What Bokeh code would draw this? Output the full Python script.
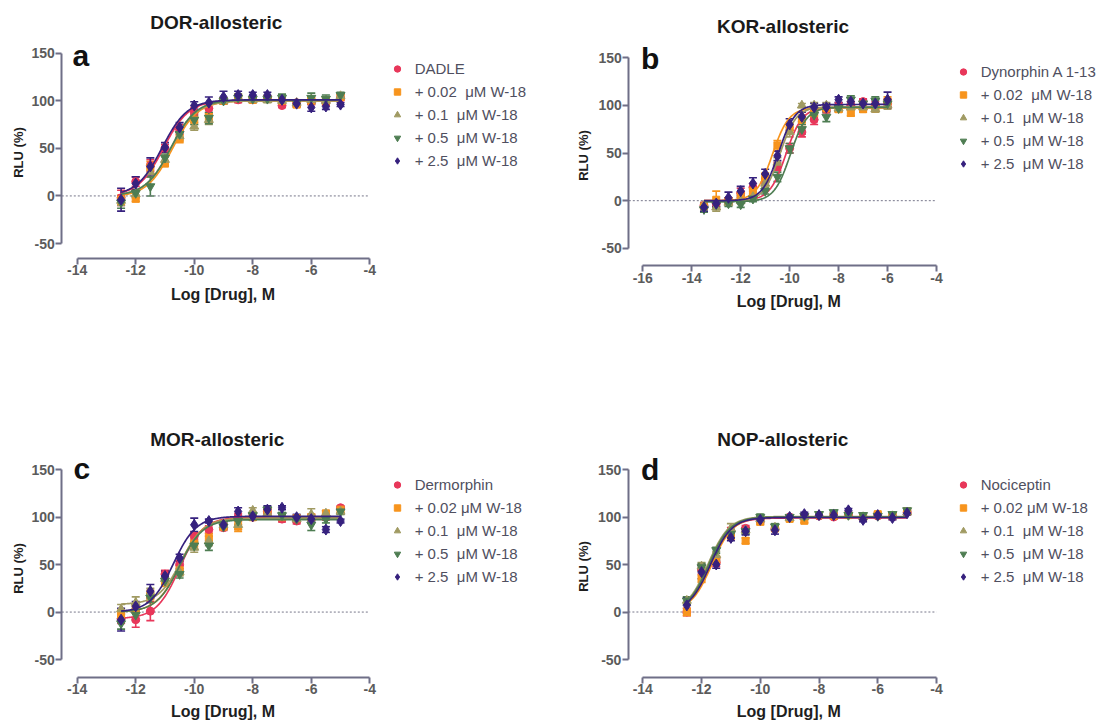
import math
import numpy as np
from bokeh.plotting import figure
from bokeh.layouts import column, row
from bokeh.models import (Range1d, Whisker, TeeHead, ColumnDataSource, Legend,
                          LegendItem, Label, FixedTicker)
from bokeh.embed import file_html
from bokeh.resources import INLINE

# ---------------- data ----------------
# Panel a: DOR
a_x = [-12.5, -12, -11.5, -11, -10.5, -10, -9.5, -9, -8.5, -8, -7.5, -7, -6.5, -6, -5.5, -5]
a_labels = ["DADLE", "+ 0.02  μM W-18", "+ 0.1  μM W-18", "+ 0.5  μM W-18", "+ 2.5  μM W-18"]
a_dadle = [-2, 15, 32, 50, 70, 88, 92, 100, 101, 101, 102, 95, 98, 99, 98, 103]
a_dadle_err = [8, 5, 6, 4, 5, 5, 5, 3, 3, 2, 3, 2, 3, 3, 3, 3]
a_w002 = [-4, -3, 30, 34, 60, 80, 82, 100, 103, 101, 102, 100, 96, 100, 100, 104]
a_w002_err = [5, 3, 6, 3, 4, 5, 5, 3, 4, 3, 3, 4, 3, 3, 3, 3]
a_w01 = [-5, 2, 25, 38, 63, 73, 80, 100, 102, 101, 101, 100, 98, 101, 100, 105]
a_w01_err = [5, 4, 5, 4, 5, 4, 5, 3, 3, 3, 3, 4, 3, 4, 4, 3]
a_w05 = [-7, 3, 10, 40, 65, 80, 82, 100, 103, 102, 102, 103, 98, 103, 102, 106]
a_w05_err = [6, 4, 10, 4, 5, 5, 6, 3, 4, 3, 3, 4, 3, 5, 4, 3]
a_w25 = [-4, 13, 31, 51, 72, 95, 98, 104, 106, 106, 106, 101, 97, 93, 94, 96]
a_w25_err = [12, 7, 9, 5, 5, 4, 6, 6, 4, 3, 3, 3, 3, 4, 3, 2]
# fit parameters: logEC50, hill, bottom, top
a_fit_logec50 = [-11.05, -10.75, -10.8, -10.8, -11.1]
a_fit_hill = [1.0, 1.0, 1.0, 1.0, 1.0]
a_fit_bottom = [0, -1, 0, 0, 0]
a_fit_top = [100.5, 100, 100, 101, 101]

# Panel b: KOR
b_x = [-13.5, -13, -12.5, -12, -11.5, -11, -10.5, -10, -9.5, -9, -8.5, -8, -7.5, -7, -6.5, -6]
b_labels = ["Dynorphin A 1-13", "+ 0.02  μM W-18", "+ 0.1  μM W-18", "+ 0.5  μM W-18", "+ 2.5  μM W-18"]
b_dyn = [-5, -3, 0, 8, 14, 20, 36, 55, 72, 85, 96, 100, 100, 104, 100, 102]
b_dyn_err = [3, 3, 3, 5, 4, 4, 4, 5, 5, 5, 4, 3, 4, 3, 4, 5]
b_w002 = [-6, 1, 0, 5, 10, 25, 58, 76, 85, 92, 97, 96, 92, 96, 97, 104]
b_w002_err = [3, 9, 3, 4, 4, 4, 5, 5, 5, 4, 3, 3, 3, 3, 3, 5]
b_w01 = [-5, -7, -2, 0, 4, 18, 40, 72, 100, 100, 100, 97, 98, 98, 96, 100]
b_w01_err = [3, 4, 3, 3, 3, 4, 5, 5, 2, 3, 3, 3, 3, 3, 3, 4]
b_w05 = [-9, -4, -3, -4, 2, 10, 25, 55, 75, 90, 88, 97, 106, 102, 105, 102]
b_w05_err = [3, 3, 3, 3, 3, 3, 5, 5, 5, 5, 5, 3, 4, 3, 4, 4]
b_w25 = [-7, -3, 3, 10, 18, 28, 47, 80, 88, 98, 98, 106, 104, 102, 102, 106]
b_w25_err = [4, 3, 6, 5, 6, 5, 5, 6, 5, 4, 4, 3, 4, 4, 4, 8]
b_fit_logec50 = [-10.15, -10.7, -10.4, -9.97, -10.45]
b_fit_hill = [1.3, 1.3, 1.3, 1.3, 1.3]
b_fit_bottom = [0, 0, -1, -1, 0]
b_fit_top = [98, 97.5, 98.5, 98, 101]

# Panel c: MOR
c_x = [-12.5, -12, -11.5, -11, -10.5, -10, -9.5, -9, -8.5, -8, -7.5, -7, -6.5, -6, -5.5, -5]
c_labels = ["Dermorphin", "+ 0.02 μM W-18", "+ 0.1  μM W-18", "+ 0.5  μM W-18", "+ 2.5  μM W-18"]
c_derm = [-7, -8, 1, 40, 50, 80, 87, 89, 100, 100, 106, 98, 96, 100, 100, 110]
c_derm_err = [5, 8, 10, 4, 4, 4, 4, 3, 4, 3, 3, 3, 3, 3, 3, 2]
c_w002 = [-3, 3, 18, 32, 44, 72, 78, 90, 90, 100, 106, 100, 99, 100, 104, 108]
c_w002_err = [5, 4, 5, 5, 5, 5, 5, 3, 5, 3, 3, 3, 3, 3, 3, 3]
c_w01 = [3, 10, 20, 35, 42, 68, 75, 92, 92, 107, 104, 100, 98, 103, 104, 106]
c_w01_err = [5, 6, 5, 5, 4, 5, 5, 3, 5, 3, 3, 3, 3, 6, 3, 3]
c_w05 = [-12, -3, 15, 33, 40, 70, 70, 90, 96, 102, 108, 102, 98, 92, 98, 106]
c_w05_err = [6, 6, 5, 4, 4, 4, 5, 3, 4, 3, 3, 3, 3, 6, 4, 3]
c_w25 = [-8, 6, 22, 38, 57, 92, 96, 92, 106, 101, 108, 110, 100, 98, 87, 96]
c_w25_err = [12, 5, 7, 5, 4, 7, 2, 3, 4, 3, 4, 2, 3, 3, 3, 2]
c_fit_logec50 = [-10.5, -10.5, -10.45, -10.5, -10.72]
c_fit_hill = [1.1, 1.1, 1.1, 1.1, 1.1]
c_fit_bottom = [-7, 0, 8, 0, 0]
c_fit_top = [100, 99, 99, 97.5, 101]

# Panel d: NOP
d_x = [-12.5, -12, -11.5, -11, -10.5, -10, -9.5, -9, -8.5, -8, -7.5, -7, -6.5, -6, -5.5, -5]
d_labels = ["Nociceptin", "+ 0.02 μM W-18", "+ 0.1  μM W-18", "+ 0.5  μM W-18", "+ 2.5  μM W-18"]
d_noc = [0, 45, 52, 85, 88, 98, 88, 100, 100, 101, 100, 102, 99, 101, 100, 105]
d_noc_err = [4, 5, 4, 4, 3, 3, 3, 2, 2, 2, 2, 2, 2, 2, 2, 2]
d_w002 = [0, 35, 55, 80, 75, 95, 88, 98, 96, 102, 101, 102, 100, 103, 102, 106]
d_w002_err = [4, 4, 4, 4, 3, 3, 3, 2, 2, 2, 2, 2, 2, 2, 2, 2]
d_w01 = [12, 48, 60, 88, 86, 98, 89, 99, 100, 102, 103, 102, 100, 102, 101, 105]
d_w01_err = [4, 4, 4, 5, 3, 3, 3, 2, 2, 2, 2, 2, 2, 2, 2, 2]
d_w05 = [12, 47, 65, 82, 85, 100, 90, 100, 101, 103, 105, 102, 102, 101, 103, 107]
d_w05_err = [4, 4, 3, 4, 3, 3, 3, 2, 2, 2, 2, 2, 2, 2, 2, 2]
d_w25 = [7, 42, 50, 78, 85, 97, 86, 100, 103, 102, 102, 107, 97, 102, 99, 104]
d_w25_err = [8, 7, 4, 3, 4, 3, 4, 2, 2, 2, 2, 2, 2, 2, 2, 2]
d_fit_logec50 = [-11.7, -11.65, -11.78, -11.75, -11.7]
d_fit_hill = [1.2, 1.2, 1.2, 1.2, 1.2]
d_fit_bottom = [0, 0, 0, 0, 0]
d_fit_top = [99, 100, 100.5, 100, 99.5]

titles = ["DOR-allosteric", "KOR-allosteric", "MOR-allosteric", "NOP-allosteric"]
letters = ["a", "b", "c", "d"]
x_title = "Log [Drug], M"
y_title = "RLU (%)"
y_ticks = [-50, 0, 50, 100, 150]
x_ticks_14 = [-14, -12, -10, -8, -6, -4]
x_ticks_16 = [-16, -14, -12, -10, -8, -6, -4]

# ---------------- style / layout ----------------
COLORS = ["#e8375a", "#f7941d", "#a09a62", "#4e7d52", "#36217e"]
MARKERS = ["circle", "square", "triangle", "inverted_triangle", "diamond"]
SIZES = [8, 7, 9, 9, 11]
AXC = "#6f6f87"
FONT = "Liberation Sans"
BASELINE_SHIFT = 0.35   # em; compensates where the text is drawn relative to its anchor

# page-pixel layout of each panel: figure box, axis calibration, axis lines, texts
LAYOUT = {
    "a": dict(fig=(0, 0, 560, 420), xcal=(-14, 76.7, 29.26), ycal=(150, 52.7, 0.9515),
              yaxis_px=61.3, xaxis_px=257.7, title=(215.8, 28.3), letter=(72, 65),
              xlab=(222.5, 299.5), ylab=(22.3, 152), legend=(388.7, 56.8)),
    "b": dict(fig=(560, 0, 546, 420), xcal=(-16, 642.3, 24.475), ycal=(150, 57.3, 0.9525),
              yaxis_px=628.3, xaxis_px=265.0, title=(782.5, 32.3), letter=(640.5, 68.3),
              xlab=(788.3, 306.5), ylab=(587.3, 155), legend=(954.7, 60.3)),
    "c": dict(fig=(0, 420, 560, 302), xcal=(-14, 76.7, 29.26), ycal=(150, 469.3, 0.9485),
              yaxis_px=61.3, xaxis_px=676.7, title=(216.7, 445.7), letter=(73, 478.3),
              xlab=(222.5, 717.0), ylab=(22.3, 568), legend=(388.7, 472.9)),
    "d": dict(fig=(560, 420, 546, 302), xcal=(-14, 642.3, 29.37), ycal=(150, 469.0, 0.95),
              yaxis_px=627.9, xaxis_px=676.7, title=(782.3, 445.7), letter=(640.5, 479),
              xlab=(788.3, 717.0), ylab=(587.3, 566), legend=(954.7, 472.9)),
}


def logistic(x, logec50, hill, bottom, top):
    return bottom + (top - bottom) / (1.0 + 10.0 ** ((logec50 - x) * hill))


def style_axis(ax):
    ax.axis_line_color = AXC
    ax.axis_line_width = 2
    ax.major_tick_line_color = AXC
    ax.major_tick_line_width = 2
    ax.major_tick_in = 0
    ax.major_tick_out = 6
    ax.minor_tick_line_color = None
    ax.major_label_text_font = FONT
    ax.major_label_text_font_style = "bold"
    ax.major_label_text_font_size = "14px"
    ax.major_label_text_color = "#5b5b5b"
    ax.major_label_standoff = 1


def make_panel(key, xticks, xs, ys, es, fits, labels, title, letter):
    L = LAYOUT[key]
    fl, ft, fw, fh = L["fig"]
    xv, xp, xs_ = L["xcal"]
    yv, yp, ys_ = L["ycal"]
    px2x = lambda px: xv + (px - xp) / xs_
    py2y = lambda py: yv - (py - yp) / ys_
    # screen position (from the figure's bottom-left) of a page pixel
    sx = lambda px: px - fl
    sy = lambda py: ft + fh - py

    p = figure(width=fw, height=fh,
               x_range=Range1d(px2x(fl), px2x(fl + fw)),
               y_range=Range1d(py2y(ft + fh), py2y(ft)),
               output_backend="svg", toolbar_location=None, min_border=0,
               min_border_left=0, min_border_right=0, min_border_top=0,
               min_border_bottom=0)
    p.title.visible = False
    p.outline_line_color = None
    p.xgrid.visible = False
    p.ygrid.visible = False
    p.background_fill_color = "white"
    p.border_fill_color = "white"

    x_axis_loc = py2y(L["xaxis_px"])
    y_axis_loc = px2x(L["yaxis_px"])
    xa, ya = p.xaxis[0], p.yaxis[0]
    xa.fixed_location = x_axis_loc
    ya.fixed_location = y_axis_loc
    xa.ticker = FixedTicker(ticks=xticks)
    xa.bounds = (xticks[0], xticks[-1])
    xa.major_label_overrides = {t: str(t) for t in xticks}
    ya.ticker = FixedTicker(ticks=y_ticks)
    ya.bounds = (y_ticks[0], y_ticks[-1])
    ya.major_label_overrides = {t: str(t) for t in y_ticks}
    style_axis(xa)
    style_axis(ya)

    # dotted zero line, from the y axis to the end of the x axis
    p.line(x=[y_axis_loc, xticks[-1]], y=[0, 0], line_color="#77778a", line_width=1,
           line_dash="2 2")

    fine = np.linspace(xs[0], xs[-1], 300)
    items = []
    for i in range(5):
        c = COLORS[i]
        y = np.array(ys[i], dtype=float)
        e = np.array(es[i], dtype=float)
        src = ColumnDataSource(dict(x=xs, y=y, upper=y + e, lower=y - e))
        w = Whisker(source=src, base="x", upper="upper", lower="lower",
                    line_color=c, line_width=1.6,
                    upper_head=TeeHead(size=8, line_color=c, line_width=1.6),
                    lower_head=TeeHead(size=8, line_color=c, line_width=1.6))
        p.add_layout(w)
        lec, h, b, t = fits[0][i], fits[1][i], fits[2][i], fits[3][i]
        p.line(x=fine, y=logistic(fine, lec, h, b, t), line_color=c, line_width=1.7)
        r = p.scatter(x="x", y="y", source=src, marker=MARKERS[i], size=SIZES[i],
                      fill_color=c, line_color=c)
        items.append(LegendItem(label=labels[i], renderers=[r]))

    lg_left, lg_top = L["legend"]
    n = len(items)
    legend = Legend(items=items, location=(sx(lg_left), sy(lg_top + 23 * n)),
                    orientation="vertical", padding=0, margin=0, spacing=0,
                    glyph_width=16, glyph_height=23, label_height=23, label_standoff=10,
                    label_text_font=FONT, label_text_font_size="15px",
                    label_text_color="#4f4f60", border_line_color=None,
                    background_fill_alpha=0)
    p.add_layout(legend)

    def text(pos, s, size_px, color, align="center", vertical=False):
        shift = BASELINE_SHIFT * size_px
        if vertical:
            px, py, angle = pos[0] - shift, pos[1], math.pi / 2
        else:
            px, py, angle = pos[0], pos[1] - shift, 0.0
        p.add_layout(Label(x=sx(px), y=sy(py), x_units="screen", y_units="screen",
                           text=s, text_align=align, text_baseline="alphabetic",
                           angle=angle, text_font=FONT, text_font_style="bold",
                           text_font_size=f"{size_px}px", text_color=color))

    text(L["title"], title, 19, "#1a1a1a")
    text(L["letter"], letter, 30, "#111111", align="left")
    text(L["xlab"], x_title, 16, "#1e1e1e")
    text(L["ylab"], y_title, 13, "#1e1e1e", vertical=True)
    return p


pa = make_panel("a", x_ticks_14, a_x,
                [a_dadle, a_w002, a_w01, a_w05, a_w25],
                [a_dadle_err, a_w002_err, a_w01_err, a_w05_err, a_w25_err],
                (a_fit_logec50, a_fit_hill, a_fit_bottom, a_fit_top),
                a_labels, titles[0], letters[0])
pb = make_panel("b", x_ticks_16, b_x,
                [b_dyn, b_w002, b_w01, b_w05, b_w25],
                [b_dyn_err, b_w002_err, b_w01_err, b_w05_err, b_w25_err],
                (b_fit_logec50, b_fit_hill, b_fit_bottom, b_fit_top),
                b_labels, titles[1], letters[1])
pc = make_panel("c", x_ticks_14, c_x,
                [c_derm, c_w002, c_w01, c_w05, c_w25],
                [c_derm_err, c_w002_err, c_w01_err, c_w05_err, c_w25_err],
                (c_fit_logec50, c_fit_hill, c_fit_bottom, c_fit_top),
                c_labels, titles[2], letters[2])
pd_ = make_panel("d", x_ticks_14, d_x,
                 [d_noc, d_w002, d_w01, d_w05, d_w25],
                 [d_noc_err, d_w002_err, d_w01_err, d_w05_err, d_w25_err],
                 (d_fit_logec50, d_fit_hill, d_fit_bottom, d_fit_top),
                 d_labels, titles[3], letters[3])

layout = column(row(pa, pb), row(pc, pd_))
open("out.html", "w").write(file_html(layout, INLINE))
